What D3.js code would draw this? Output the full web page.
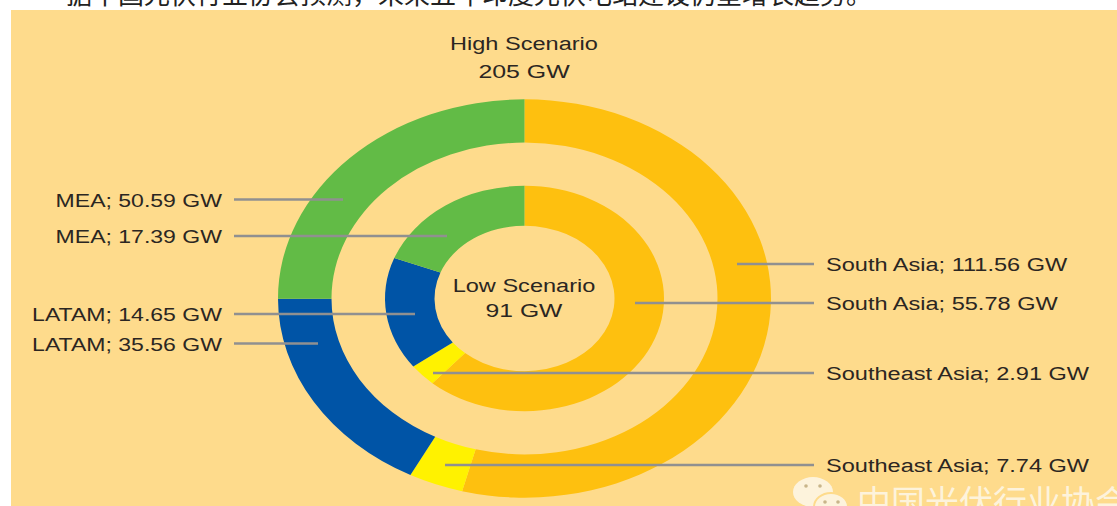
<!DOCTYPE html>
<html>
<head>
<meta charset="utf-8">
<script src="https://cdn.jsdelivr.net/npm/d3@7"></script>
<style>
html, body { margin: 0; padding: 0; background: #fff; overflow: hidden; }
text { font-family: "Liberation Sans", Arial, sans-serif; fill: #2b2622; }
</style>
</head>
<body>
<div id="chart"></div>
<script>
// order = clockwise from 12 o'clock
var regions = ["South Asia", "Southeast Asia", "LATAM", "MEA"];
var highValues = [111.56, 7.74, 35.56, 50.59];
var lowValues = [55.78, 2.91, 14.65, 17.39];
// the outer ring as drawn in the picture is a little off its own labels, so read separately
var highArcs = [111.1, 7.36, 35.6, 51.4];
var regionColors = ["#fec00f", "#fff200", "#0054a6", "#62bb46"];

var scenarioNames = ["High Scenario", "Low Scenario"];
var scenarioTotals = ["205 GW", "91 GW"];
var headline = "据中国光伏行业协会预测，未来五年印度光伏电站建设仍呈增长趋势。";
var watermark = "中国光伏行业协会";

var width = 1117, height = 506;
var cx = 524.5, cy = 298.5;
var yScale = 0.808; // the picture is squashed, rings are ellipses
var textStretch = 1.24; // and the type is stretched the same way

var svg = d3.select("#chart").append("svg")
	.attr("width", width)
	.attr("height", height);

svg.append("rect")
	.attr("x", 11).attr("y", 10)
	.attr("width", width - 11).attr("height", height - 10)
	.attr("fill", "#fedb8c");

svg.append("text")
	.attr("x", 66).attr("y", 4)
	.style("font-family", '"Noto Sans CJK SC"')
	.style("font-size", "26px")
	.style("fill", "#222")
	.text(headline);

var pie = d3.pie().sort(null);
var ring = svg.append("g")
	.attr("transform", "translate(" + cx + "," + cy + ") scale(1," + yScale + ")");

function drawRing(values, rInner, rOuter) {
	var arc = d3.arc().innerRadius(rInner).outerRadius(rOuter);
	ring.append("g").selectAll("path")
		.data(pie(values))
		.enter().append("path")
		.attr("d", arc)
		.attr("fill", function(d, i) { return regionColors[i]; });
}
drawRing(highArcs, 193, 246.5);
drawRing(lowValues, 90, 139.5);

function stretched(x, y, anchor, str, stretch) {
	return svg.append("text")
		.attr("transform", "translate(" + x + "," + y + ") scale(" + (stretch || textStretch) + ",1)")
		.attr("text-anchor", anchor)
		.style("font-size", "19px")
		.text(str);
}

function label(i, values) {
	return regions[i] + "; " + values[i] + " GW";
}

// region index, values, y of the leader, x where the leader stops inside the ring
var leaders = [
	[0, highValues, 264, 737],
	[0, lowValues, 303, 635],
	[1, lowValues, 373, 433],
	[1, highValues, 465, 445],
	[3, highValues, 199.5, 343],
	[3, lowValues, 236, 447],
	[2, lowValues, 314, 415],
	[2, highValues, 343.5, 318]
];

leaders.forEach(function(l) {
	var right = l[0] < 2;
	svg.append("line")
		.attr("x1", right ? 814 : 234)
		.attr("x2", l[3])
		.attr("y1", l[2]).attr("y2", l[2])
		.attr("stroke", "#909090")
		.attr("stroke-width", 2.5);
	stretched(right ? 826 : 222, l[2] + 7, right ? "start" : "end", label(l[0], l[1]), right ? 1.24 : 1.213);
});

stretched(524, 50, "middle", scenarioNames[0]);
stretched(524, 78, "middle", scenarioTotals[0], 1.31);
stretched(524, 292, "middle", scenarioNames[1]);
stretched(524, 317, "middle", scenarioTotals[1], 1.3);

// watermark
svg.append("text")
	.attr("x", 857).attr("y", 515)
	.style("font-family", '"Noto Sans CJK SC"')
	.style("font-size", "34px")
	.style("fill", "#fdf3dc")
	.text(watermark);
var wm = svg.append("g");
wm.append("ellipse").attr("cx", 813).attr("cy", 492).attr("rx", 20).attr("ry", 15).attr("fill", "#fdf3dc");
wm.append("ellipse").attr("cx", 831).attr("cy", 507).attr("rx", 17).attr("ry", 14)
	.attr("fill", "#fdf3dc").attr("stroke", "#fedb8c").attr("stroke-width", 2);
[[806, 486], [820, 486], [825, 502], [838, 502]].forEach(function(e) {
	wm.append("circle").attr("cx", e[0]).attr("cy", e[1]).attr("r", 1.8).attr("fill", "#c9b58a");
});
</script>
</body>
</html>
